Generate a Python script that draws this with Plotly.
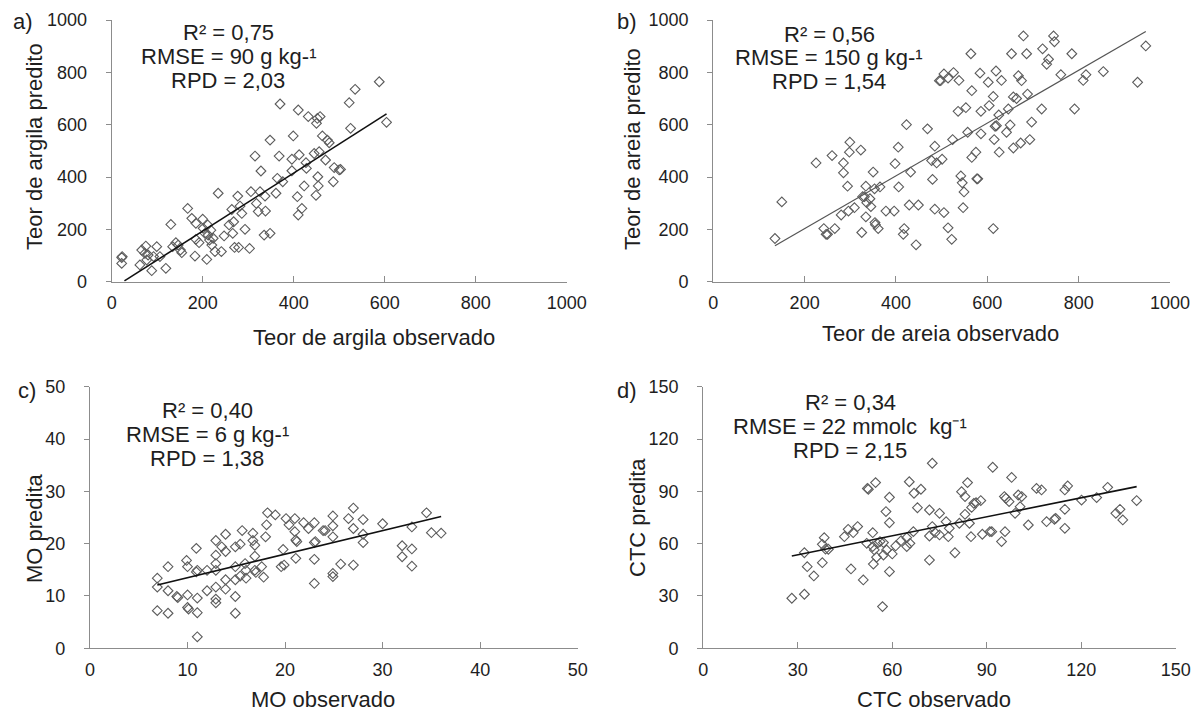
import plotly.graph_objects as go

W, H = 1203, 713

# ---------------- data ----------------
# a) argila (clay)
a_obs = [22, 22, 23, 62, 66, 73, 75, 77, 80, 88, 92, 99, 106, 119, 130, 134, 141, 146, 151, 154,
         167, 176, 183, 185, 185, 192, 200, 201, 205, 209, 211, 212, 215, 218, 220, 223, 227, 234, 241, 247,
         258, 264, 266, 268, 270, 277, 279, 282, 286, 293, 303, 306, 315, 318, 322, 326, 328, 337, 338, 335,
         348, 348, 361, 364, 368, 370, 376, 396, 396, 399, 408, 410, 410, 412, 418, 423, 427, 428, 432, 445,
         449, 450, 452, 453, 454, 456, 458, 463, 470, 474, 478, 487, 489, 500, 503, 522, 525, 535, 588, 604]
a_pred = [92, 70, 96, 64, 121, 108, 136, 83, 102, 42, 96, 134, 96, 51, 219, 134, 149, 140, 121, 111,
          280, 242, 98, 223, 162, 149, 239, 204, 185, 85, 217, 178, 159, 197, 140, 166, 115, 338, 115, 175,
          217, 276, 185, 229, 131, 327, 131, 289, 261, 200, 127, 344, 480, 299, 268, 344, 423, 327, 270, 178,
          185, 541, 338, 395, 480, 679, 382, 468, 424, 557, 325, 656, 255, 485, 280, 366, 455, 433, 631, 490,
          330, 605, 624, 401, 366, 497, 631, 557, 465, 541, 531, 382, 436, 427, 429, 684, 586, 735, 764, 609]
a_trend_x = [28, 604]
a_trend_y = [3, 641]

# b) areia (sand)
b_obs = [135, 150, 225, 242, 247, 250, 260, 266, 280, 285, 285, 294, 296, 299, 298, 309, 323, 325, 327, 331,
         334, 334, 336, 343, 345, 350, 353, 354, 355, 361, 365, 378, 396, 398, 405, 406, 418, 416, 423, 429,
         432, 444, 449, 469, 478, 480, 485, 485, 489, 495, 498, 501, 505, 505, 514, 514, 522, 524, 526, 538,
         536, 542, 545, 549, 547, 553, 557, 564, 566, 566, 575, 577, 579, 584, 586, 586, 602, 604, 613, 613,
         615, 617, 619, 620, 625, 626, 631, 642, 646, 650, 653, 657, 657, 664, 668, 673, 675, 679, 686, 688,
         693, 697, 719, 721, 730, 734, 745, 747, 761, 785, 791, 810, 816, 854, 929, 947]
b_pred = [165, 305, 454, 203, 181, 181, 482, 203, 255, 454, 416, 365, 270, 533, 495, 283, 503, 188, 325, 325,
          365, 248, 302, 317, 287, 419, 355, 226, 218, 203, 362, 270, 270, 451, 514, 362, 203, 181, 600, 293,
          419, 141, 293, 584, 463, 391, 277, 518, 454, 768, 768, 468, 264, 794, 778, 206, 162, 543, 799, 769,
          651, 404, 378, 343, 283, 665, 571, 871, 475, 730, 495, 393, 393, 797, 565, 651, 762, 673, 708, 203,
          543, 594, 805, 596, 637, 495, 769, 571, 660, 599, 871, 511, 706, 700, 787, 530, 768, 939, 871, 717,
          543, 610, 660, 890, 831, 850, 939, 917, 791, 871, 660, 769, 791, 803, 762, 901]
b_trend_x = [135, 947]
b_trend_y = [137, 956]

# c) MO (organic matter)
c_obs = [6.9, 6.9, 6.9, 8.0, 8.0, 8.0, 8.9, 9.0, 9.9, 10.0, 10.0, 10.0, 10.1, 10.9, 10.9, 11.0, 11.0, 11.0, 11.0, 12.0,
         12.0, 12.9, 12.9, 12.9, 12.9, 12.9, 12.9, 12.9, 13.5, 13.9, 13.9, 13.9, 13.9, 14.9, 14.9, 14.9, 14.9, 14.9, 15.4, 15.4,
         15.6, 15.9, 16.0, 16.0, 16.7, 16.7, 16.9, 16.9, 16.9, 17.0, 17.6, 17.8, 18.0, 18.1, 18.2, 19.0, 19.6, 19.8, 19.9, 20.1,
         20.4, 21.0, 21.0, 21.1, 21.1, 21.2, 21.9, 22.4, 23.0, 23.0, 23.0, 23.0, 23.1, 23.9, 24.1, 24.9, 24.9, 24.9, 24.9, 24.9,
         25.7, 26.5, 27.0, 27.0, 27.0, 28.0, 28.0, 28.0, 30.0, 32.0, 32.0, 33.0, 33.0, 33.0, 34.5, 35.0, 36.0]
c_pred = [13.4, 11.7, 7.2, 11.0, 6.7, 15.6, 9.9, 9.7, 16.8, 15.6, 10.2, 7.8, 7.5, 19.1, 14.6, 14.9, 9.6, 6.8, 2.2, 14.9,
          11.0, 20.6, 17.8, 16.2, 14.9, 11.7, 9.4, 8.7, 19.4, 21.8, 18.5, 13.1, 11.3, 19.4, 15.6, 13.1, 9.9, 6.7, 19.9, 13.8,
          22.5, 16.2, 14.9, 13.4, 22.0, 20.6, 19.7, 17.6, 14.9, 14.5, 15.6, 13.6, 21.3, 23.6, 25.9, 25.5, 15.6, 18.9, 15.9, 24.8,
          23.6, 24.8, 22.3, 20.7, 17.2, 20.4, 24.0, 22.9, 24.0, 20.2, 17.0, 12.4, 20.4, 22.5, 22.5, 21.3, 25.3, 23.4, 14.3, 13.7,
          16.1, 24.8, 26.8, 22.9, 15.9, 24.6, 21.8, 20.2, 23.8, 19.6, 17.5, 23.2, 19.0, 15.7, 25.9, 22.1, 22.0]
c_trend_x = [6.9, 36.0]
c_trend_y = [12.1, 25.2]

# d) CTC (cation exchange capacity)
d_obs = [28.1, 32.1, 32.1, 33.0, 35.1, 37.8, 37.8, 38.4, 38.8, 39.7, 44.8, 46.0, 46.9, 47.6, 49.0, 50.8, 51.9, 52.1, 52.4, 53.8,
         53.8, 54.0, 54.3, 54.7, 55.0, 55.3, 56.1, 56.9, 57.2, 57.2, 58.0, 58.2, 59.1, 59.1, 59.1, 60.0, 61.1, 62.8, 64.6, 64.6,
         65.4, 65.6, 66.7, 66.9, 68.0, 69.1, 71.8, 71.8, 71.8, 72.7, 72.7, 73.6, 75.0, 75.0, 77.1, 77.8, 78.1, 79.9, 81.3, 82.0,
         83.1, 83.1, 83.9, 84.5, 85.0, 85.2, 85.9, 86.6, 88.1, 88.6, 91.0, 91.6, 91.9, 94.7, 95.6, 95.8, 96.1, 97.1, 97.9, 99.0,
         100.0, 100.6, 101.1, 103.2, 105.8, 107.4, 109.0, 111.5, 111.9, 114.8, 114.8, 114.8, 115.7, 120.1, 124.9, 128.4, 131.0, 132.3, 133.2, 137.6]
d_pred = [28.7, 54.8, 31.0, 46.8, 41.5, 59.6, 49.1, 63.4, 56.9, 56.8, 64.0, 68.2, 45.5, 66.3, 69.8, 39.2, 60.2, 91.7, 91.2, 66.3,
          58.3, 48.3, 56.4, 95.0, 52.2, 60.2, 61.2, 23.9, 60.6, 53.5, 78.4, 56.4, 86.6, 72.0, 44.0, 54.1, 58.7, 61.7, 63.4, 58.3,
          95.5, 60.2, 66.9, 88.9, 80.6, 91.2, 79.3, 64.4, 50.6, 106.1, 69.8, 66.3, 77.4, 65.0, 72.6, 64.0, 68.8, 54.8, 71.7, 89.8,
          87.0, 76.8, 95.0, 71.7, 64.0, 80.8, 83.1, 83.5, 84.7, 65.4, 66.9, 66.9, 103.8, 61.2, 87.0, 66.9, 86.0, 84.1, 98.0, 77.4,
          87.9, 81.2, 87.0, 70.7, 91.7, 90.8, 72.6, 74.0, 74.5, 90.8, 79.7, 68.8, 93.1, 85.0, 86.4, 92.3, 77.4, 79.7, 73.6, 84.7]
d_trend_x = [28.1, 137.6]
d_trend_y = [52.9, 92.7]

# axis ticks
ticks_1000 = [0, 200, 400, 600, 800, 1000]
ticks_50 = [0, 10, 20, 30, 40, 50]
ticks_150 = [0, 30, 60, 90, 120, 150]

x_titles = ["Teor de argila observado", "Teor de areia observado", "MO observado", "CTC observado"]
y_titles = ["Teor de argila predito", "Teor de areia predito", "MO predita", "CTC predita"]
panel_labels = ["a)", "b)", "c)", "d)"]
stats = [
    ["R² = 0,75", "RMSE = 90 g kg-¹", "RPD = 2,03"],
    ["R² = 0,56", "RMSE = 150 g kg-¹", "RPD = 1,54"],
    ["R² = 0,40", "RMSE = 6 g kg-¹", "RPD = 1,38"],
    ["R² = 0,34", "RMSE = 22 mmolc  kg⁻¹", "RPD = 2,15"],
]

# ---------------- layout helpers ----------------
FONT = "Arial, 'Liberation Sans', sans-serif"
AXIS_COLOR = "#8c8c8c"
TEXT_COLOR = "#1e1e1e"
MARKER_COLOR = "#5c5c5c"
TICK_SIZE = 18
TITLE_SIZE = 22


def fx(p):
    return p / W


def fy(p):
    return 1 - p / H


panels = [
    dict(obs=a_obs, pred=a_pred, tx=a_trend_x, ty=a_trend_y, lc="#111111", lw=1.6,
         xd=(111.7, 566.7), yd=(20, 281.7), rng=1000, ticks=ticks_1000,
         stats_x=228, stats_y=(32, 56, 80), xt=(374, 337), yt=(35, 147), lab=(23, 22)),
    dict(obs=b_obs, pred=b_pred, tx=b_trend_x, ty=b_trend_y, lc="#555555", lw=1.2,
         xd=(713.3, 1170), yd=(20, 281.7), rng=1000, ticks=ticks_1000,
         stats_x=829, stats_y=(34, 57, 81), xt=(940, 333), yt=(632, 149), lab=(627, 22)),
    dict(obs=c_obs, pred=c_pred, tx=c_trend_x, ty=c_trend_y, lc="#111111", lw=1.6,
         xd=(90, 577.7), yd=(386.7, 648.3), rng=50, ticks=ticks_50,
         stats_x=207, stats_y=(410, 434, 458), xt=(323, 699), yt=(34, 528), lab=(27, 391)),
    dict(obs=d_obs, pred=d_pred, tx=d_trend_x, ty=d_trend_y, lc="#111111", lw=1.6,
         xd=(703.3, 1175.7), yd=(386.7, 648.3), rng=150, ticks=ticks_150,
         stats_x=850, stats_y=(402, 427, 451), xt=(934, 699), yt=(637, 518), lab=(627, 390)),
]

fig = go.Figure()
layout = dict(
    template="none",
    width=W, height=H, autosize=False,
    margin=dict(l=0, r=0, t=0, b=0, pad=0, autoexpand=False),
    paper_bgcolor="white", plot_bgcolor="white",
    showlegend=False,
    font=dict(family=FONT, color=TEXT_COLOR, size=TICK_SIZE),
)
annotations = []

for i, p in enumerate(panels):
    n = "" if i == 0 else str(i + 1)
    xa, ya = "x" + n, "y" + n
    fig.add_trace(go.Scatter(
        x=p["obs"], y=p["pred"], mode="markers", xaxis=xa, yaxis=ya,
        marker=dict(symbol="diamond-open", size=7.5, color=MARKER_COLOR, line=dict(width=1.1, color=MARKER_COLOR)),
    ))
    fig.add_trace(go.Scatter(
        x=p["tx"], y=p["ty"], mode="lines", xaxis=xa, yaxis=ya,
        line=dict(color=p["lc"], width=p["lw"]),
    ))
    common = dict(range=[0, p["rng"]], tickmode="array", tickvals=p["ticks"], automargin=False,
                  showgrid=False, zeroline=False, showline=True, linecolor=AXIS_COLOR, linewidth=1.2,
                  tickcolor=AXIS_COLOR, tickwidth=1.2,
                  tickfont=dict(family=FONT, size=TICK_SIZE, color=TEXT_COLOR), fixedrange=True)
    layout["xaxis" + n] = dict(common, domain=[fx(p["xd"][0]), fx(p["xd"][1])], anchor=ya,
                               ticks="inside", ticklen=6, ticklabelstandoff=5)
    layout["yaxis" + n] = dict(common, domain=[fy(p["yd"][1]), fy(p["yd"][0])], anchor=xa,
                               ticks="outside", ticklen=5, ticklabelstandoff=15)
    for line_text, yy in zip(stats[i], p["stats_y"]):
        annotations.append(dict(x=fx(p["stats_x"]), y=fy(yy), xref="paper", yref="paper",
                                text=line_text, showarrow=False, xanchor="center", yanchor="middle",
                                borderpad=0,
                                font=dict(family=FONT, size=TITLE_SIZE, color=TEXT_COLOR)))
    annotations.append(dict(x=fx(p["xt"][0]), y=fy(p["xt"][1]), xref="paper", yref="paper",
                            text=x_titles[i], showarrow=False, xanchor="center", yanchor="middle",
                            font=dict(family=FONT, size=TITLE_SIZE, color=TEXT_COLOR)))
    annotations.append(dict(x=fx(p["yt"][0]), y=fy(p["yt"][1]), xref="paper", yref="paper",
                            text=y_titles[i], showarrow=False, xanchor="center", yanchor="middle",
                            textangle=-90, font=dict(family=FONT, size=TITLE_SIZE, color=TEXT_COLOR)))
    annotations.append(dict(x=fx(p["lab"][0]), y=fy(p["lab"][1]), xref="paper", yref="paper",
                            text=panel_labels[i], showarrow=False, xanchor="center", yanchor="middle",
                            font=dict(family=FONT, size=TITLE_SIZE, color=TEXT_COLOR)))

layout["annotations"] = annotations
fig.update_layout(**layout)

fig.write_html("out.html", config={"displayModeBar": False, "responsive": False},
               post_script="document.body.style.margin='0';document.body.style.overflow='hidden';")
